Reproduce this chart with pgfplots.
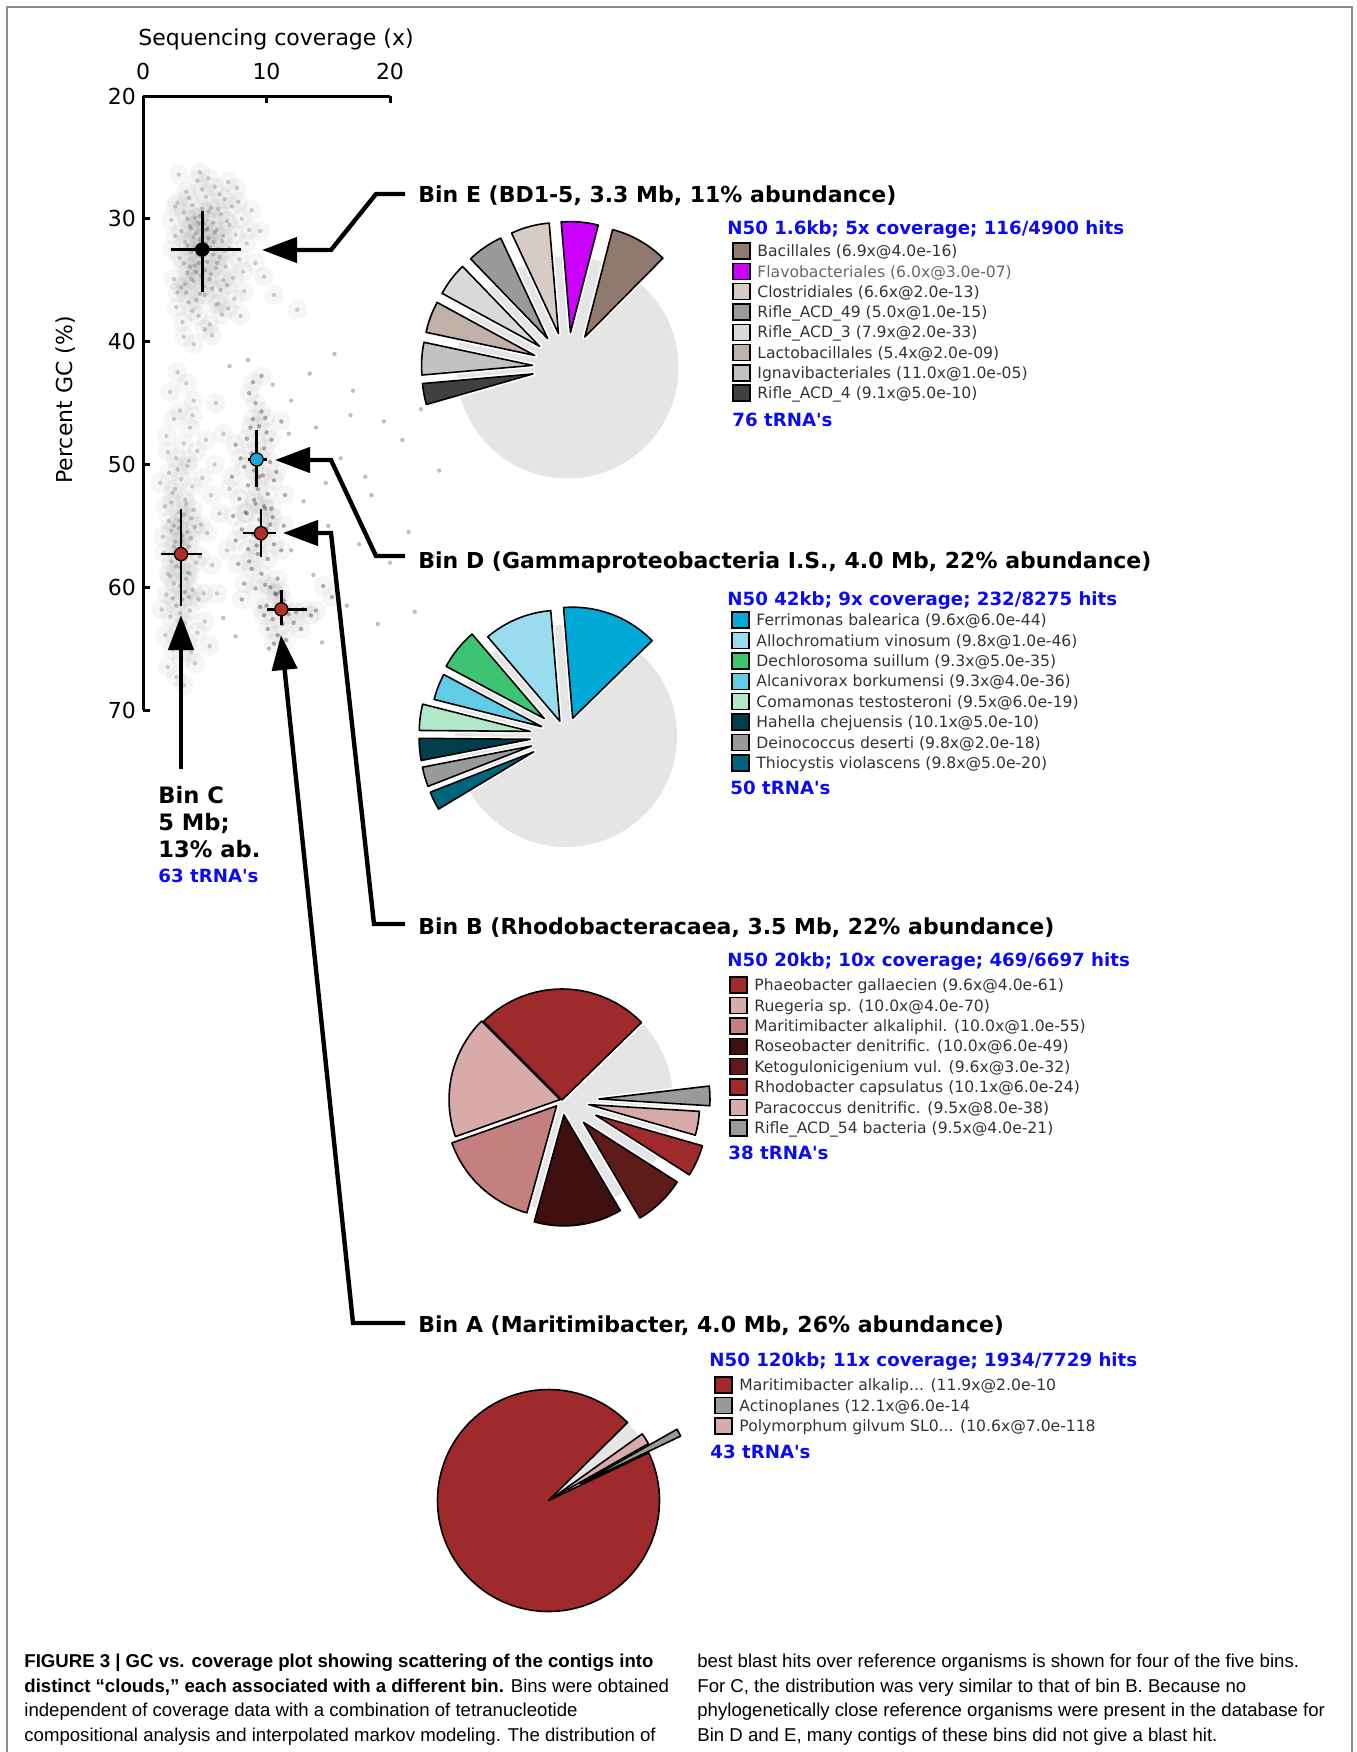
\documentclass[border=0pt]{standalone}
\usepackage{pgfplots}
\usepackage{pgfplotstable}
\pgfplotsset{compat=1.18}
\usepackage{fontspec}
\setmainfont{DejaVu Sans}
\newfontfamily\capfont{Liberation Sans}
\usetikzlibrary{arrows.meta}

\definecolor{pieGray}{HTML}{E5E5E5}
\definecolor{legtext}{HTML}{333333}
\definecolor{hblue}{HTML}{0A0AF5}
\definecolor{ptred}{HTML}{B0302A}
\definecolor{ptcyan}{HTML}{1AA8DA}
% Bin E
\definecolor{eBac}{HTML}{8F7A6D}\definecolor{eFla}{HTML}{CC00FF}\definecolor{eClo}{HTML}{D5CCC6}
\definecolor{eR49}{HTML}{9A9A9A}\definecolor{eR3}{HTML}{D9D9D9}\definecolor{eLac}{HTML}{BFB1A8}
\definecolor{eIgn}{HTML}{C2C2C2}\definecolor{eR4}{HTML}{404040}
% Bin D
\definecolor{dFer}{HTML}{00A9D6}\definecolor{dAll}{HTML}{99DCEF}\definecolor{dDec}{HTML}{3CC473}
\definecolor{dAlc}{HTML}{62CBE5}\definecolor{dCom}{HTML}{B2E8C9}\definecolor{dHah}{HTML}{003E4C}
\definecolor{dDei}{HTML}{9A9A9A}\definecolor{dThi}{HTML}{00657F}
% Bin B / A
\definecolor{bPha}{HTML}{9E2A2B}\definecolor{bRue}{HTML}{D9AAAA}\definecolor{bMar}{HTML}{C47F7F}
\definecolor{bRos}{HTML}{3F1010}\definecolor{bKet}{HTML}{5F1A1A}\definecolor{bRho}{HTML}{9E2A2B}
\definecolor{bPar}{HTML}{D9AAAA}\definecolor{bRif}{HTML}{9A9A9A}

\newcommand\fsTitle{\fontsize{11}{13}\selectfont\bfseries}
\newcommand\fsHead{\fontsize{9.1}{11}\selectfont\bfseries}
\newcommand\fsLeg{\fontsize{7.8}{9.5}\selectfont}
\newcommand\fsCap{\capfont\fontsize{9.3}{11}\selectfont}
\newcommand\tq{\textquotesingle}

% legend row: swatch x, text x, row centre y, colour, text
\newcommand\legitem[5]{%
  \draw[black,line width=0.7pt,fill=#4] (#1,{-(#3-8)}) rectangle ({#1+17},{-(#3+8)});
  \node[anchor=base west,inner sep=0,text=legtext,font=\fsLeg] at (#2,{-(#3+5.7)}) {#5};}

% wedges: start angle, end angle, explode (px), colour
\newcommand\wW[3]{\draw[white,line width=2.4pt,line join=round] (axis cs:{#3*cos((#1+#2)/2)},{#3*sin((#1+#2)/2)}) -- ++(#1:55.5pt) arc[start angle=#1,end angle=#2,radius=55.5pt] -- cycle;}
\newcommand\wF[4]{\draw[black,line width=0.8pt,line join=round,fill=#4] (axis cs:{#3*cos((#1+#2)/2)},{#3*sin((#1+#2)/2)}) -- ++(#1:55.5pt) arc[start angle=#1,end angle=#2,radius=55.5pt] -- cycle;}

\pgfplotsset{pieaxis/.style={anchor=center,scale only axis,width=120pt,height=120pt,
  xmin=-120,xmax=120,ymin=-120,ymax=120,hide axis,clip=false}}

% contig clouds: coverage, GC
\pgfplotstableread{
x y
2.3 30.1
2.6 31.4
2.8 28.7
3.0 33.2
3.1 35.6
3.3 29.5
3.4 31.9
3.5 27.8
3.6 34.4
3.7 36.8
3.8 30.6
3.9 32.7
4.0 28.9
4.1 35.1
4.2 33.8
4.3 31.2
4.4 26.9
4.5 37.9
4.6 29.8
4.7 34.6
4.8 32.1
4.9 30.4
5.0 36.2
5.1 28.2
5.2 33.5
5.3 31.6
5.4 38.6
5.5 29.1
5.6 35.7
5.7 32.9
5.8 27.4
5.9 34.0
6.0 30.9
6.1 36.9
6.2 33.1
6.3 29.6
6.4 31.8
6.5 35.0
6.6 28.4
6.7 33.9
6.8 30.2
6.9 37.3
7.0 32.4
7.2 29.0
7.3 34.8
7.5 31.3
7.6 27.5
7.8 33.3
8.0 30.0
8.2 35.9
8.4 32.0
8.8 29.3
9.1 33.6
9.5 31.0
2.5 34.9
2.7 37.2
2.9 26.4
3.2 38.4
3.4 35.3
3.6 30.0
3.8 33.9
4.0 37.5
4.2 29.9
4.4 32.9
4.6 36.1
4.8 27.6
5.0 34.2
5.2 30.8
5.4 32.3
5.6 39.5
5.8 31.1
6.0 33.6
6.2 28.0
6.4 37.8
6.6 32.6
6.8 35.4
7.0 30.5
7.4 36.5
7.7 28.6
8.1 34.3
3.1 31.0
3.3 33.6
3.5 36.0
3.7 28.3
3.9 34.9
4.1 31.5
4.3 36.6
4.5 30.3
4.7 33.0
4.9 35.5
5.1 32.0
5.3 29.4
5.5 34.5
5.7 31.9
5.9 37.0
6.1 29.2
6.3 35.8
6.5 31.4
2.4 32.5
2.6 29.0
7.9 37.9
8.6 30.9
9.8 34.7
10.6 36.2
12.5 37.4
4.1 40.2
5.0 39.0
3.3 39.6
2.8 36.0
6.9 27.0
4.6 26.2
5.3 26.7
4.2 32.4
4.5 33.6
5.1 30.9
4.3 34.3
3.6 32.2
5.4 34.9
4.8 29.2
5.7 30.3
3.9 30.8
4.6 31.7
}\cloudE
\pgfplotstableread{
x y
2.8 42.5
3.5 43.4
2.2 44.1
4.1 44.8
3.0 45.6
2.5 46.3
3.8 47.0
1.9 47.7
3.3 48.3
4.4 48.9
2.7 49.5
3.6 50.1
2.1 50.7
3.1 51.2
4.0 51.8
2.4 52.3
3.4 52.9
1.8 53.4
2.9 53.9
3.9 54.4
4.7 54.9
2.3 55.4
3.2 55.8
2.6 56.3
3.7 56.7
1.7 57.2
2.8 57.6
4.3 58.0
3.0 58.4
2.0 58.9
3.5 59.3
2.5 59.7
4.0 60.2
1.9 60.6
3.2 61.0
2.7 61.5
3.8 61.9
2.2 62.4
3.4 62.9
2.9 63.4
1.8 63.9
3.6 64.5
2.4 65.1
3.1 65.8
2.0 66.5
2.7 67.3
3.3 68.0
2.5 55.0
3.3 54.1
2.9 56.9
3.6 58.8
2.4 60.9
3.0 59.9
3.9 56.0
2.1 54.6
3.5 53.2
2.6 52.0
3.8 58.9
2.3 57.9
3.2 57.0
4.6 57.5
4.9 60.5
5.2 55.6
5.5 52.5
4.8 51.1
5.6 58.2
5.0 62.8
4.4 63.7
1.6 55.9
1.5 61.8
1.4 51.5
4.2 66.2
3.7 49.7
2.8 50.4
3.0 62.1
2.6 64.0
4.1 53.7
3.4 60.4
2.2 59.1
2.9 55.2
3.6 55.5
4.5 61.0
5.8 50.0
6.2 54.0
6.5 47.5
5.9 45.0
6.8 57.0
7.0 52.0
6.0 60.5
5.4 64.8
4.0 46.0
5.1 48.0
2.0 49.0
3.9 65.3
3.1 56.2
2.7 58.3
3.4 57.7
2.5 56.7
3.0 54.6
3.7 60.8
2.3 53.1
4.2 55.1
}\cloudC
\pgfplotstableread{
x y
8.6 44.2
9.1 45.0
9.6 45.7
8.9 46.3
9.4 46.9
10.0 47.4
8.4 47.9
9.2 48.3
9.8 48.7
8.8 49.1
9.5 49.4
10.3 49.8
8.2 50.2
9.0 50.5
9.7 50.9
10.6 51.3
8.5 51.7
9.3 52.0
10.1 52.4
7.8 52.8
9.1 53.2
9.9 53.6
8.7 47.0
9.9 46.2
10.4 48.0
7.9 49.5
10.8 50.6
9.4 51.0
8.3 53.9
10.5 54.3
7.5 48.4
11.2 46.5
8.9 43.3
9.6 42.8
7.2 51.0
11.5 52.5
9.0 52.9
9.8 53.4
8.4 54.0
9.4 54.5
10.3 54.9
8.0 55.3
8.9 55.7
9.7 56.1
10.6 56.5
8.5 56.9
9.3 57.3
10.1 57.7
7.7 58.1
8.8 58.5
9.6 58.9
10.9 59.3
8.2 59.7
9.1 60.1
10.0 55.2
9.2 56.6
8.6 57.9
10.4 53.6
7.5 56.2
11.2 57.0
9.9 59.8
8.0 61.0
11.4 55.0
7.3 54.2
10.7 60.5
9.5 61.6
10.3 60.0
10.8 60.6
11.4 61.1
10.0 61.5
11.0 61.9
11.8 62.2
12.4 62.0
13.0 61.8
10.5 62.6
11.3 63.0
10.1 63.4
10.9 63.9
11.6 64.3
12.2 62.9
13.6 62.3
9.8 62.3
11.1 60.4
10.6 64.6
12.8 63.4
14.0 61.9
15.3 60.8
14.6 59.9
}\cloudDBA
\pgfplotstableread{
x y
7.0 42.0
8.5 41.5
10.5 43.5
12.0 44.8
13.5 42.6
15.5 41.0
17.0 44.0
19.5 46.5
21.0 48.0
22.5 45.5
14.0 47.0
16.0 49.5
18.0 51.0
12.5 50.0
13.0 53.0
15.0 55.0
17.5 56.5
20.0 58.0
23.5 57.5
12.0 57.0
13.8 59.0
16.5 61.5
19.0 63.0
11.5 65.5
14.5 64.5
21.5 55.5
18.5 52.5
24.0 50.5
6.5 62.5
7.5 64.0
11.8 47.5
12.8 55.8
14.8 51.5
10.2 65.0
22.0 62.0
16.8 46.0
}\sparse

\begin{document}
\begin{tikzpicture}[x=0.5pt,y=0.5pt]
\useasboundingbox (0,0) rectangle (1356,-1752);
\draw[black!45,line width=0.7pt] (7,-1752) -- (7,-7) -- (1352,-7) -- (1352,-1752);

% ---------------- scatter ----------------
\begin{axis}[at={(133.25pt,-201.5pt)},anchor=center,scale only axis,width=123.5pt,height=307pt,
  xmin=0,xmax=20,ymin=20,ymax=70,y dir=reverse,clip=false,
  axis x line*=top,axis y line*=left,
  axis line style={line width=1.5pt,-},
  xtick={0,10,20},ytick={20,30,40,50,60,70},
  tick align=inside,major tick length=3.5pt,
  tick style={line width=1.5pt,black},
  ticklabel style={font=\fontsize{11}{13}\selectfont},
  xticklabel style={yshift=4.5pt},
  /pgf/number format/assume math mode=true,
  haze/.style={only marks,mark=*,mark size=5pt,mark options={draw opacity=0,fill=black,fill opacity=0.035}},
  dots/.style={only marks,mark=*,mark size=1.1pt,mark options={draw opacity=0,fill=black,fill opacity=#1}},
  ]
\addplot[haze] table {\cloudE};
\addplot[haze] table {\cloudC};
\addplot[haze] table {\cloudDBA};
\addplot[dots=0.18] table {\cloudE};
\addplot[dots=0.18] table {\cloudC};
\addplot[dots=0.3] table {\cloudDBA};
\addplot[dots=0.25] table {\sparse};
% bin centres with spread
\pgfplotsset{binc/.style={only marks,mark=*,mark size=3.3pt,
  mark options={draw=black,line width=0.6pt,fill=#1},
  error bars/.cd,x dir=both,x explicit,y dir=both,y explicit,
  error bar style={line width=1.3pt,black},error mark=none}}
\addplot[binc=black] coordinates {(4.8,32.5) += (3.1,3.5) -= (2.5,3.1)};
\addplot[binc=ptcyan] coordinates {(9.2,49.6) += (0.8,2.2) -= (0.7,2.4)};
\addplot[binc=ptred] coordinates {(9.55,55.6) += (1.25,1.9) -= (1.45,2.0)};
\addplot[binc=ptred] coordinates {(3.08,57.3) += (1.7,4.2) -= (1.6,3.7)};
\addplot[binc=ptred] coordinates {(11.2,61.8) += (2.1,1.3) -= (1.2,1.6)};
\end{axis}

\node[anchor=base,inner sep=0,font=\fontsize{11}{13}\selectfont] at (276,-45) {Sequencing coverage (x)};
\node[anchor=base,inner sep=0,rotate=90,font=\fontsize{11}{13}\selectfont] at (72,-400) {Percent GC (\%)};

% ---------------- arrows ----------------
\begin{scope}[line width=2.2pt,line join=miter,-{Triangle[length=17.5pt,width=12.5pt]}]
\draw (405,-194) -- (376,-194) -- (331,-250) -- (262,-250);
\draw (405,-556) -- (376,-556) -- (331,-460) -- (275,-460);
\draw (405,-924) -- (374,-924) -- (331,-533) -- (283,-533);
\draw (405,-1323) -- (353,-1323) -- (281,-635);
\draw (181,-769) -- (181,-615);
\end{scope}

% Bin C label
\node[anchor=base west,inner sep=0,font=\fontsize{11.3}{13}\selectfont\bfseries] at (158,-803) {Bin C};
\node[anchor=base west,inner sep=0,font=\fontsize{11.3}{13}\selectfont\bfseries] at (158,-830) {5 Mb;};
\node[anchor=base west,inner sep=0,font=\fontsize{11.3}{13}\selectfont\bfseries] at (158,-857) {13\% ab.};
\node[anchor=base west,inner sep=0,font=\fsHead,text=hblue] at (158,-882) {63 tRNA\tq s};

% ---------------- Bin E ----------------
\node[anchor=base west,inner sep=0,font=\fsTitle] at (418,-202) {Bin E (BD1-5, 3.3 Mb, 11\% abundance)};
\begin{axis}[pieaxis,at={(283.75pt,-183.75pt)}]
\fill[pieGray] (axis cs:0,0) circle[radius=55.5pt];
\wW{45.3}{75.5}{35}\wW{75.5}{94.8}{35}\wW{94.8}{115}{35}\wW{115}{134}{35}
\wW{134}{151.5}{35}\wW{151.5}{168}{35}\wW{168}{185}{35}\wW{185}{196}{35}
\wF{45.3}{75.5}{35}{eBac}\wF{75.5}{94.8}{35}{eFla}\wF{94.8}{115}{35}{eClo}\wF{115}{134}{35}{eR49}
\wF{134}{151.5}{35}{eR3}\wF{151.5}{168}{35}{eLac}\wF{168}{185}{35}{eIgn}\wF{185}{196}{35}{eR4}
\end{axis}
\node[anchor=base west,inner sep=0,font=\fsHead,text=hblue] at (727,-234.6) {N50 1.6kb; 5x coverage; 116/4900 hits};
\legitem{733}{757}{251}{eBac}{Bacillales (6.9x@4.0e-16)}
\legitem{733}{757}{271.3}{eFla}{\textcolor{black!60}{Flavobacteriales (6.0x@3.0e-07)}}
\legitem{733}{757}{291.6}{eClo}{Clostridiales (6.6x@2.0e-13)}
\legitem{733}{757}{311.9}{eR49}{Rifle\_ACD\_49 (5.0x@1.0e-15)}
\legitem{733}{757}{332.2}{eR3}{Rifle\_ACD\_3 (7.9x@2.0e-33)}
\legitem{733}{757}{352.5}{eLac}{Lactobacillales (5.4x@2.0e-09)}
\legitem{733}{757}{372.8}{eIgn}{Ignavibacteriales (11.0x@1.0e-05)}
\legitem{733}{757}{393.1}{eR4}{Rifle\_ACD\_4 (9.1x@5.0e-10)}
\node[anchor=base west,inner sep=0,font=\fsHead,text=hblue] at (732,-426.6) {76 tRNA\tq s};

% ---------------- Bin D ----------------
\node[anchor=base west,inner sep=0,font=\fsTitle] at (418,-568) {Bin D (Gammaproteobacteria I.S., 4.0 Mb, 22\% abundance)};
\begin{axis}[pieaxis,at={(283pt,-368pt)}]
\fill[pieGray] (axis cs:0,0) circle[radius=55.5pt];
\wW{44.3}{94.7}{19}\wW{94.7}{130.5}{16}\wW{130.5}{152}{28}\wW{152}{165.8}{26}
\wW{165.8}{179.5}{36}\wW{179.5}{191}{36}\wW{191}{201.3}{36}\wW{201.3}{211}{36}
\wF{44.3}{94.7}{19}{dFer}\wF{94.7}{130.5}{16}{dAll}\wF{130.5}{152}{28}{dDec}\wF{152}{165.8}{26}{dAlc}
\wF{165.8}{179.5}{36}{dCom}\wF{179.5}{191}{36}{dHah}\wF{191}{201.3}{36}{dDei}\wF{201.3}{211}{36}{dThi}
\end{axis}
\node[anchor=base west,inner sep=0,font=\fsHead,text=hblue] at (727,-605.6) {N50 42kb; 9x coverage; 232/8275 hits};
\legitem{732}{756}{620}{dFer}{Ferrimonas balearica (9.6x@6.0e-44)}
\legitem{732}{756}{640.4}{dAll}{Allochromatium vinosum (9.8x@1.0e-46)}
\legitem{732}{756}{660.8}{dDec}{Dechlorosoma suillum (9.3x@5.0e-35)}
\legitem{732}{756}{681.2}{dAlc}{Alcanivorax borkumensi (9.3x@4.0e-36)}
\legitem{732}{756}{701.6}{dCom}{Comamonas testosteroni (9.5x@6.0e-19)}
\legitem{732}{756}{722}{dHah}{Hahella chejuensis (10.1x@5.0e-10)}
\legitem{732}{756}{742.4}{dDei}{Deinococcus deserti (9.8x@2.0e-18)}
\legitem{732}{756}{762.8}{dThi}{Thiocystis violascens (9.8x@5.0e-20)}
\node[anchor=base west,inner sep=0,font=\fsHead,text=hblue] at (730,-794.6) {50 tRNA\tq s};

% ---------------- Bin B ----------------
\node[anchor=base west,inner sep=0,font=\fsTitle] at (418,-934) {Bin B (Rhodobacteracaea, 3.5 Mb, 22\% abundance)};
\begin{axis}[pieaxis,at={(281pt,-550pt)}]
\fill[pieGray] (axis cs:0,0) circle[radius=55.5pt];
\wW{44.3}{135}{0}\wW{135}{199.5}{2}\wW{199.5}{254.5}{8}\wW{254.5}{300.5}{15}
\wW{300.5}{327.5}{31}\wW{327.5}{344}{37}\wW{344}{356.5}{27}\wW{356.5}{366.7}{37}
\wF{44.3}{135}{0}{bPha}\wF{135}{199.5}{2}{bRue}\wF{199.5}{254.5}{8}{bMar}\wF{254.5}{300.5}{15}{bRos}
\wF{300.5}{327.5}{31}{bKet}\wF{327.5}{344}{37}{bRho}\wF{344}{356.5}{27}{bPar}\wF{356.5}{366.7}{37}{bRif}
\end{axis}
\node[anchor=base west,inner sep=0,font=\fsHead,text=hblue] at (727,-966.6) {N50 20kb; 10x coverage; 469/6697 hits};
\legitem{730}{754}{985}{bPha}{Phaeobacter gallaecien (9.6x@4.0e-61)}
\legitem{730}{754}{1005.4}{bRue}{Ruegeria sp. (10.0x@4.0e-70)}
\legitem{730}{754}{1025.8}{bMar}{Maritimibacter alkaliphil. (10.0x@1.0e-55)}
\legitem{730}{754}{1046.2}{bRos}{Roseobacter denitrific. (10.0x@6.0e-49)}
\legitem{730}{754}{1066.6}{bKet}{Ketogulonicigenium vul. (9.6x@3.0e-32)}
\legitem{730}{754}{1087}{bRho}{Rhodobacter capsulatus (10.1x@6.0e-24)}
\legitem{730}{754}{1107.4}{bPar}{Paracoccus denitrific. (9.5x@8.0e-38)}
\legitem{730}{754}{1127.8}{bRif}{Rifle\_ACD\_54 bacteria (9.5x@4.0e-21)}
\node[anchor=base west,inner sep=0,font=\fsHead,text=hblue] at (728,-1159.6) {38 tRNA\tq s};

% ---------------- Bin A ----------------
\node[anchor=base west,inner sep=0,font=\fsTitle] at (418,-1332) {Bin A (Maritimibacter, 4.0 Mb, 26\% abundance)};
\begin{axis}[pieaxis,at={(274.25pt,-750.25pt)}]
\fill[pieGray] (axis cs:0,0) circle[radius=55.5pt];
\wF{44.6}{385.5}{0}{bPha}
\wF{389.5}{395.5}{4}{bPar}
\wF{385.5}{389.5}{36}{bRif}
\end{axis}
\node[anchor=base west,inner sep=0,font=\fsHead,text=hblue] at (709,-1366.6) {N50 120kb; 11x coverage; 1934/7729 hits};
\legitem{715}{739}{1385}{bPha}{Maritimibacter alkalip... (11.9x@2.0e-10}
\legitem{715}{739}{1405.4}{bRif}{Actinoplanes (12.1x@6.0e-14}
\legitem{715}{739}{1425.8}{bPar}{Polymorphum gilvum SL0... (10.6x@7.0e-118}
\node[anchor=base west,inner sep=0,font=\fsHead,text=hblue] at (710,-1458.6) {43 tRNA\tq s};

% ---------------- caption ----------------
\node[anchor=base west,inner sep=0,font=\fsCap] at (24,-1667.5) {\textbf{FIGURE 3 | GC vs. coverage plot showing scattering of the contigs into}};
\node[anchor=base west,inner sep=0,font=\fsCap] at (24,-1692) {\textbf{distinct “clouds,” each associated with a different bin.} Bins were obtained};
\node[anchor=base west,inner sep=0,font=\fsCap] at (24,-1716.5) {independent of coverage data with a combination of tetranucleotide};
\node[anchor=base west,inner sep=0,font=\fsCap] at (24,-1741) {compositional analysis and interpolated markov modeling. The distribution of};
\node[anchor=base west,inner sep=0,font=\fsCap] at (697,-1667.5) {best blast hits over reference organisms is shown for four of the five bins.};
\node[anchor=base west,inner sep=0,font=\fsCap] at (697,-1692) {For C, the distribution was very similar to that of bin B. Because no};
\node[anchor=base west,inner sep=0,font=\fsCap] at (697,-1716.5) {phylogenetically close reference organisms were present in the database for};
\node[anchor=base west,inner sep=0,font=\fsCap] at (697,-1741) {Bin D and E, many contigs of these bins did not give a blast hit.};
\end{tikzpicture}
\end{document}
